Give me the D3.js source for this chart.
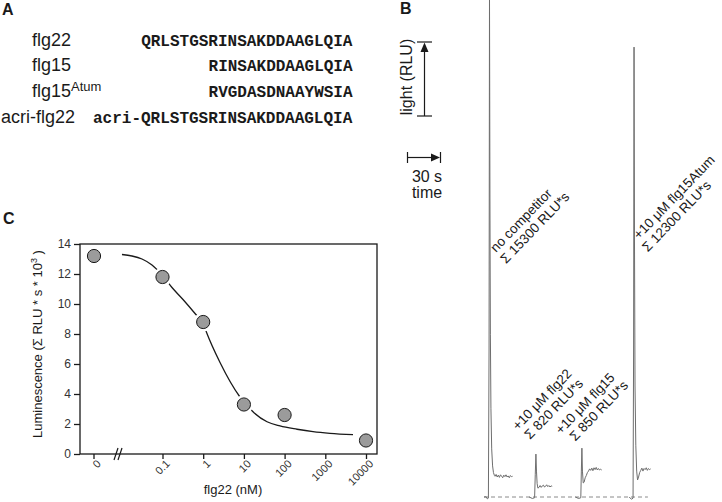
<!DOCTYPE html>
<html>
<head>
<meta charset="utf-8">
<script src="https://cdn.jsdelivr.net/npm/d3@7"></script>
<style>
  body { margin: 0; background: #fff; }
  svg { display: block; font-family: Arial, "Liberation Sans", sans-serif; }
</style>
</head>
<body>
<svg id="fig" width="722" height="502"></svg>
<script>
// ---- panel A: peptides
var peptideNames = ['flg22', 'flg15', 'flg15', 'acri-flg22'];
var peptideSups = ['', '', 'Atum', ''];
var peptideSeqs = [
  'QRLSTGSRINSAKDDAAGLQIA',
  'RINSAKDDAAGLQIA',
  'RVGDASDNAAYWSIA',
  'acri-QRLSTGSRINSAKDDAAGLQIA'
];

// ---- panel B: luminescence traces, [time (s), light (RLU)]
var traceNoComp = [[0, 0], [2, 30], [3, -250], [4, -150], [4.6, 20000], [5, 68000], [5.4, 40000],
  [5.8, 22000], [6.3, 12000], [7, 6500], [7.8, 4200], [8.6, 3300], [9.5, 2900], [10, 2800],
  [11, 3050], [12, 2700], [13, 2950], [14, 2650], [15, 3000], [16, 2800], [17, 2600], [18, 2950],
  [19, 2750], [20, 3000], [21, 2700], [22, 2850], [23, 2600], [24, 2900], [25, 2750], [26, 2800]];
var traceFlg22 = [[41, 0], [44, -200], [46, -100], [46.6, 3000], [47.2, 5800], [47.7, 3500],
  [48.3, 1800], [49, 1200], [50, 1300], [51, 1550], [52, 1300], [53, 1500], [54, 1600],
  [55, 1350], [56, 1450], [57, 1650], [58, 1400], [59, 1550], [60, 1350], [61, 1500], [62, 1450]];
var traceFlg15 = [[83, 0], [86, -200], [88, -100], [88.5, 3500], [89, 6600], [89.5, 3500],
  [90.2, 1900], [91, 2000], [92, 2600], [93, 2900], [94, 3300], [95, 3500], [96, 3800],
  [97, 3600], [98, 3900], [99, 3550], [100, 3950], [101, 3700], [102, 4000], [103, 3650],
  [104, 3850], [105, 3650], [106, 3750], [107, 3650]];
var traceFlg15Atum = [[132, 0], [134, -300], [135.5, -150], [136, 20000], [136.4, 60800],
  [136.8, 35000], [137.3, 15000], [138, 7000], [138.8, 3500], [139.6, 2300], [140.5, 2700],
  [141.5, 3300], [142.5, 3600], [143.5, 3900], [144.5, 3500], [145.5, 3850], [146.5, 3700],
  [147.5, 3950], [148.5, 3600], [149.5, 3850], [150.5, 3700], [151.5, 3800]];
var traces = [traceNoComp, traceFlg22, traceFlg15, traceFlg15Atum];
var traceLabels = [
  ['no competitor', '\u03A3 15300 RLU*s'],
  ['+10 \u03BCM flg22', '\u03A3 820 RLU*s'],
  ['+10 \u03BCM flg15', '\u03A3 850 RLU*s'],
  ['+10 \u03BCM flg15Atum', '\u03A3 12300 RLU*s']
];

// ---- panel C: competition curve
var doseNM = [0, 0.1, 1, 10, 100, 10000];
var luminescence = [13.2, 11.8, 8.8, 3.3, 2.6, 0.9];
var fitCurve = [[0.0101, 13.3], [0.0178, 13.2], [0.0313, 13.0], [0.0552, 12.6], [0.1, 11.9],
  [0.171, 11.1], [0.319, 10.3], [0.66, 9.3], [1.0, 8.7], [1.17, 8.2], [2.59, 6.1], [8.0, 3.8],
  [17.7, 2.75], [37, 2.15], [77, 1.87], [202, 1.65], [500, 1.49], [1300, 1.38], [4800, 1.29]];
var doseTicks = [0.1, 1, 10, 100, 1000, 10000];
var doseTickLabels = ['0.1', '1', '10', '100', '1000', '10000'];
var lumTicks = [0, 2, 4, 6, 8, 10, 12, 14];

var svg = d3.select('#fig');
var INK = '#1a1a1a';

// panel letters
svg.selectAll('.panel-letter')
  .data([['A', 2, 15], ['B', 400, 14], ['C', 3, 224]])
  .enter().append('text')
  .attr('class', 'panel-letter')
  .attr('x', function (d) { return d[1]; })
  .attr('y', function (d) { return d[2]; })
  .style('font-weight', 'bold')
  .style('font-size', '16px')
  .attr('fill', INK)
  .text(function (d) { return d[0]; });

// ================= panel A
var rowY = [46, 71, 97, 122.5];
var nameX = [32, 32, 32, 1];
var CHAR_W = 9.63, SEQ_END = 93 + 27 * CHAR_W;

svg.selectAll('.pep-name')
  .data(peptideNames)
  .enter().append('text')
  .attr('class', 'pep-name')
  .attr('x', function (d, i) { return nameX[i]; })
  .attr('y', function (d, i) { return rowY[i]; })
  .style('font-size', '18px')
  .attr('fill', INK)
  .each(function (d, i) {
    var t = d3.select(this);
    t.append('tspan').text(d);
    if (peptideSups[i]) {
      t.append('tspan').attr('dy', -6).style('font-size', '13px').text(peptideSups[i]);
    }
  });

svg.selectAll('.pep-seq')
  .data(peptideSeqs)
  .enter().append('text')
  .attr('class', 'pep-seq')
  .attr('x', function (d) { return SEQ_END - d.length * CHAR_W; })
  .attr('y', function (d, i) { return rowY[i]; })
  .style('font-family', '"Liberation Mono", "Courier New", monospace')
  .style('font-weight', 'bold')
  .style('font-size', '16px')
  .attr('fill', INK)
  .text(function (d) { return d; });

// ================= panel B
var xB = d3.scaleLinear().domain([0, 150]).range([484, 649]);
var yB = d3.scaleLinear().domain([0, 10000]).range([497, 423]);
var traceLine = d3.line()
  .x(function (d) { return xB(d[0]); })
  .y(function (d) { return yB(d[1]); });

svg.append('line')
  .attr('x1', xB(0)).attr('x2', xB(149))
  .attr('y1', yB(0)).attr('y2', yB(0))
  .attr('stroke', '#8a8a8a')
  .attr('stroke-width', 1)
  .attr('stroke-dasharray', '4,3');

svg.selectAll('.trace')
  .data(traces)
  .enter().append('path')
  .attr('class', 'trace')
  .attr('d', traceLine)
  .attr('fill', 'none')
  .attr('stroke', '#6e6e6e')
  .attr('stroke-width', 1);

// labels: anchored to each trace's peak
var labelOffsets = [[6.5, 253, -1], [-18, 431, 2], [-21, 435, 5], [5, 240, -3]];
traces.forEach(function (tr, i) {
  var peak = tr.reduce(function (a, b) { return b[1] > a[1] ? b : a; });
  var off = labelOffsets[i];
  var g = svg.append('g')
    .attr('transform', 'translate(' + (xB(peak[0]) + off[0]) + ',' + off[1] + ') rotate(-46)');
  g.selectAll('text')
    .data(traceLabels[i])
    .enter().append('text')
    .attr('x', function (d, j) { return j * off[2]; })
    .attr('y', function (d, j) { return j * 15; })
    .style('font-size', '13.5px')
    .attr('fill', INK)
    .text(function (d) { return d; });
});

// scale bars
var bar = svg.append('g').attr('stroke', INK).attr('stroke-width', 1.2).attr('fill', 'none');
bar.append('line').attr('x1', 424.5).attr('x2', 424.5).attr('y1', 50).attr('y2', 116);
bar.append('line').attr('x1', 417).attr('x2', 432).attr('y1', 42).attr('y2', 42);
bar.append('line').attr('x1', 417).attr('x2', 432).attr('y1', 116).attr('y2', 116);
svg.append('path').attr('d', 'M424.5,42.5L420.5,52L428.5,52Z').attr('fill', INK);

bar.append('line').attr('x1', 407.5).attr('x2', 433).attr('y1', 157.5).attr('y2', 157.5);
bar.append('line').attr('x1', 407.5).attr('x2', 407.5).attr('y1', 152).attr('y2', 163);
bar.append('line').attr('x1', 440.5).attr('x2', 440.5).attr('y1', 152).attr('y2', 163);
svg.append('path').attr('d', 'M440,157.5L431,153.5L431,161.5Z').attr('fill', INK);

svg.append('text')
  .attr('transform', 'translate(412,77) rotate(-90)')
  .attr('text-anchor', 'middle')
  .style('font-size', '16px')
  .attr('fill', INK)
  .text('light (RLU)');
svg.append('text').attr('x', 427).attr('y', 182).attr('text-anchor', 'middle')
  .style('font-size', '16px').attr('fill', INK).text('30 s');
svg.append('text').attr('x', 427).attr('y', 198).attr('text-anchor', 'middle')
  .style('font-size', '16px').attr('fill', INK).text('time');

// ================= panel C
var C_LEFT = 80, C_RIGHT = 377, C_TOP = 244, C_BOTTOM = 454;
var X_ZERO = 94, X_BREAK = 118;
var xC = d3.scaleLog().domain([0.1, 10000]).range([162.5, 366]);
var yC = d3.scaleLinear().domain([0, 14]).range([C_BOTTOM, C_TOP]);
function doseX(v) { return v === 0 ? X_ZERO : xC(v); }

var fitLine = d3.line()
  .x(function (d) { return xC(d[0]); })
  .y(function (d) { return yC(d[1]); })
  .curve(d3.curveMonotoneX);
svg.append('path')
  .attr('d', fitLine(fitCurve))
  .attr('fill', 'none')
  .attr('stroke', INK)
  .attr('stroke-width', 1.3);

// frame
svg.append('rect')
  .attr('x', C_LEFT).attr('y', C_TOP)
  .attr('width', C_RIGHT - C_LEFT).attr('height', C_BOTTOM - C_TOP)
  .attr('fill', 'none').attr('stroke', INK).attr('stroke-width', 1.3);

// y axis
var yAxis = svg.append('g')
  .attr('transform', 'translate(' + C_LEFT + ',0)')
  .call(d3.axisLeft(yC).tickValues(lumTicks).tickSize(6).tickPadding(3));
yAxis.select('.domain').remove();
yAxis.selectAll('line').attr('stroke', INK).attr('stroke-width', 1.3);
yAxis.selectAll('text').style('font-size', '12px').style('font-family', 'Arial, sans-serif').attr('fill', '#333');

// x axis
var xAxis = svg.append('g')
  .attr('transform', 'translate(0,' + C_BOTTOM + ')')
  .call(d3.axisBottom(xC).tickValues(doseTicks).tickSize(5)
    .tickFormat(function (d, i) { return doseTickLabels[i]; }));
xAxis.select('.domain').remove();
xAxis.selectAll('line').attr('stroke', INK).attr('stroke-width', 1.3);
xAxis.selectAll('text')
  .attr('y', 0).attr('dy', '0.71em')
  .attr('transform', 'translate(2,5) rotate(-45)')
  .attr('text-anchor', 'end')
  .style('font-size', '11px').style('font-family', 'Arial, sans-serif').attr('fill', '#333');
// zero tick, left of the break
var zeroTick = svg.append('g').attr('transform', 'translate(' + X_ZERO + ',' + C_BOTTOM + ')');
zeroTick.append('line').attr('y2', 5).attr('stroke', INK).attr('stroke-width', 1.3);
zeroTick.append('text')
  .attr('dy', '0.71em')
  .attr('transform', 'translate(2,5) rotate(-45)')
  .attr('text-anchor', 'end')
  .style('font-size', '11px').attr('fill', '#333')
  .text('0');
// axis break
[X_BREAK - 2, X_BREAK + 2].forEach(function (bx) {
  svg.append('line')
    .attr('x1', bx - 2).attr('y1', C_BOTTOM + 6)
    .attr('x2', bx + 2).attr('y2', C_BOTTOM - 6)
    .attr('stroke', INK).attr('stroke-width', 1.2);
});

// data points with white halos
svg.selectAll('.halo')
  .data(doseNM)
  .enter().append('circle')
  .attr('class', 'halo')
  .attr('cx', function (d) { return doseX(d); })
  .attr('cy', function (d, i) { return yC(luminescence[i]); })
  .attr('r', 9.5)
  .attr('fill', '#fff');
svg.selectAll('.dot')
  .data(doseNM)
  .enter().append('circle')
  .attr('class', 'dot')
  .attr('cx', function (d) { return doseX(d); })
  .attr('cy', function (d, i) { return yC(luminescence[i]); })
  .attr('r', 6.6)
  .attr('fill', '#9b9b9b')
  .attr('stroke', INK)
  .attr('stroke-width', 1);

// axis titles
svg.append('text')
  .attr('x', 233).attr('y', 494)
  .attr('text-anchor', 'middle')
  .style('font-size', '13px').attr('fill', INK)
  .text('flg22 (nM)');
var yTitle = svg.append('text')
  .attr('transform', 'translate(42,438) rotate(-90)')
  .style('font-size', '13px').attr('fill', INK)
  .text('Luminescence (\u03A3 RLU * s * 10');
yTitle.append('tspan').attr('dy', -5).style('font-size', '9px').text('3');
yTitle.append('tspan').attr('dy', 5).text(' )');
</script>
</body>
</html>
